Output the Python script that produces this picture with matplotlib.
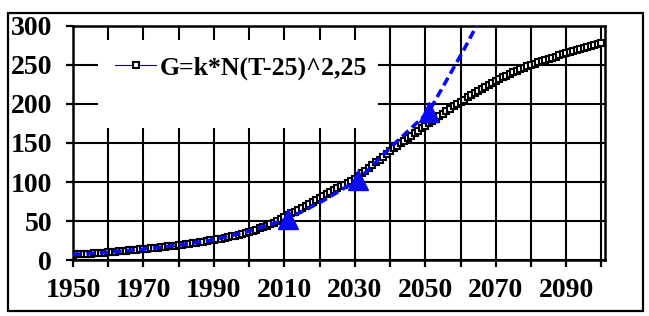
import matplotlib
matplotlib.use("Agg")
import matplotlib.pyplot as plt
from matplotlib.patches import Rectangle
import numpy as np

plt.rcParams["font.family"] = ["Liberation Serif", "DejaVu Serif"]
plt.rcParams["font.weight"] = "bold"

# model curve G=k*N(T-25)^2,25, one value per year 1950..2100
years = np.arange(1950, 2101)
g_values = [
    7.0, 7.2, 7.5, 7.8, 8.1, 8.4, 8.7, 9.0, 9.3, 9.6, 10.0,
    10.4, 10.8, 11.2, 11.6, 12.0, 12.4, 12.8, 13.2, 13.6, 14.0,
    14.5, 15.0, 15.5, 16.0, 16.5, 17.0, 17.5, 18.0, 18.5, 19.0,
    19.6, 20.2, 20.9, 21.6, 22.3, 23.0, 23.7, 24.5, 25.2, 26.0,
    26.8, 27.6, 28.5, 29.4, 30.4, 31.4, 32.5, 33.6, 34.8, 36.0,
    37.5, 39.0, 40.6, 42.3, 44.1, 46.0, 48.0, 50.2, 52.5, 55.0,
    57.4, 59.8, 62.2, 64.6, 67.1, 69.6, 72.1, 74.6, 77.3, 80.0,
    82.4, 84.8, 87.2, 89.6, 92.0, 94.4, 96.8, 99.2, 101.6, 104.0,
    107.5, 111.0, 114.5, 118.0, 121.6, 125.2, 128.8, 132.4, 136.2, 140.0,
    143.2, 146.4, 149.6, 152.8, 156.0, 159.2, 162.4, 165.6, 168.8, 172.0,
    175.1, 178.2, 181.3, 184.4, 187.5, 190.6, 193.7, 196.8, 199.9, 203.0,
    205.7, 208.4, 211.1, 213.8, 216.5, 219.2, 221.9, 224.6, 227.3, 230.0,
    232.1, 234.2, 236.3, 238.4, 240.5, 242.5, 244.5, 246.5, 248.3, 250.0,
    251.6, 253.2, 254.8, 256.3, 257.8, 259.3, 260.8, 262.2, 263.6, 265.0,
    266.3, 267.6, 268.9, 270.2, 271.5, 272.8, 274.1, 275.4, 276.7, 278.0,
]

# blue dashed comparison curve
blue_years = [1950, 1960, 1970, 1980, 1990, 2000, 2011, 2021, 2031, 2041, 2051, 2061, 2071]
blue_values = [7, 10, 14, 19, 26, 37, 53, 76, 103, 148, 190, 270, 355]
blue_marked = [2011, 2031, 2051]

legend_label = "G=k*N(T-25)^2,25"
x_ticks = list(range(1950, 2101, 10))
x_labels = [str(y) if (y - 1950) % 20 == 0 and y < 2100 else "" for y in x_ticks]
y_ticks = list(range(0, 301, 50))

BLUE = "#0a0af5"

fig = plt.figure(figsize=(6.49, 3.16), dpi=100)
ax = fig.add_axes([0.1125, 0.177, 0.8197, 0.741])

ax.set_xlim(1950, 2101)
ax.set_ylim(0, 300)
ax.set_xticks(x_ticks)
ax.set_xticklabels(x_labels)
ax.set_yticks(y_ticks)
ax.grid(True, color="black", linewidth=1.5, zorder=0)
ax.set_axisbelow(True)
for sp in ax.spines.values():
    sp.set_linewidth(1.8)
ax.tick_params(axis="both", direction="out", length=5, width=1.6, colors="black")
ax.tick_params(axis="x", labelsize=20, pad=8)
ax.tick_params(axis="y", labelsize=20, pad=10)

# white legend area hiding the grid
ax.add_patch(Rectangle((0.047, 0.564), 0.526, 0.376, transform=ax.transAxes,
                       facecolor="white", edgecolor="none", zorder=1.5))

ax.plot(years, g_values, "-s", color="#101070", linewidth=0.8,
        markersize=4.8, markerfacecolor="white", markeredgecolor="black",
        markeredgewidth=1.5, label=legend_label, zorder=3)

marks = [blue_years.index(y) for y in blue_marked]
ax.plot(blue_years, blue_values, linestyle=(0, (2.4, 1.3)), color=BLUE,
        linewidth=2.6, marker="^", markevery=marks, markersize=14,
        markerfacecolor=BLUE, markeredgecolor=BLUE, zorder=4, clip_on=True)

ax.legend(loc="center left", bbox_to_anchor=(0.055, 0.82), frameon=False,
          prop={"size": 18.5, "weight": "bold"}, handlelength=1.6,
          handletextpad=0.15, borderpad=0)

fig.patches.append(Rectangle((8 / 649, 5 / 316), 635 / 649, 298 / 316,
                             transform=fig.transFigure, fill=False,
                             edgecolor="black", linewidth=1.6))

fig.savefig("out.png", dpi=100)
